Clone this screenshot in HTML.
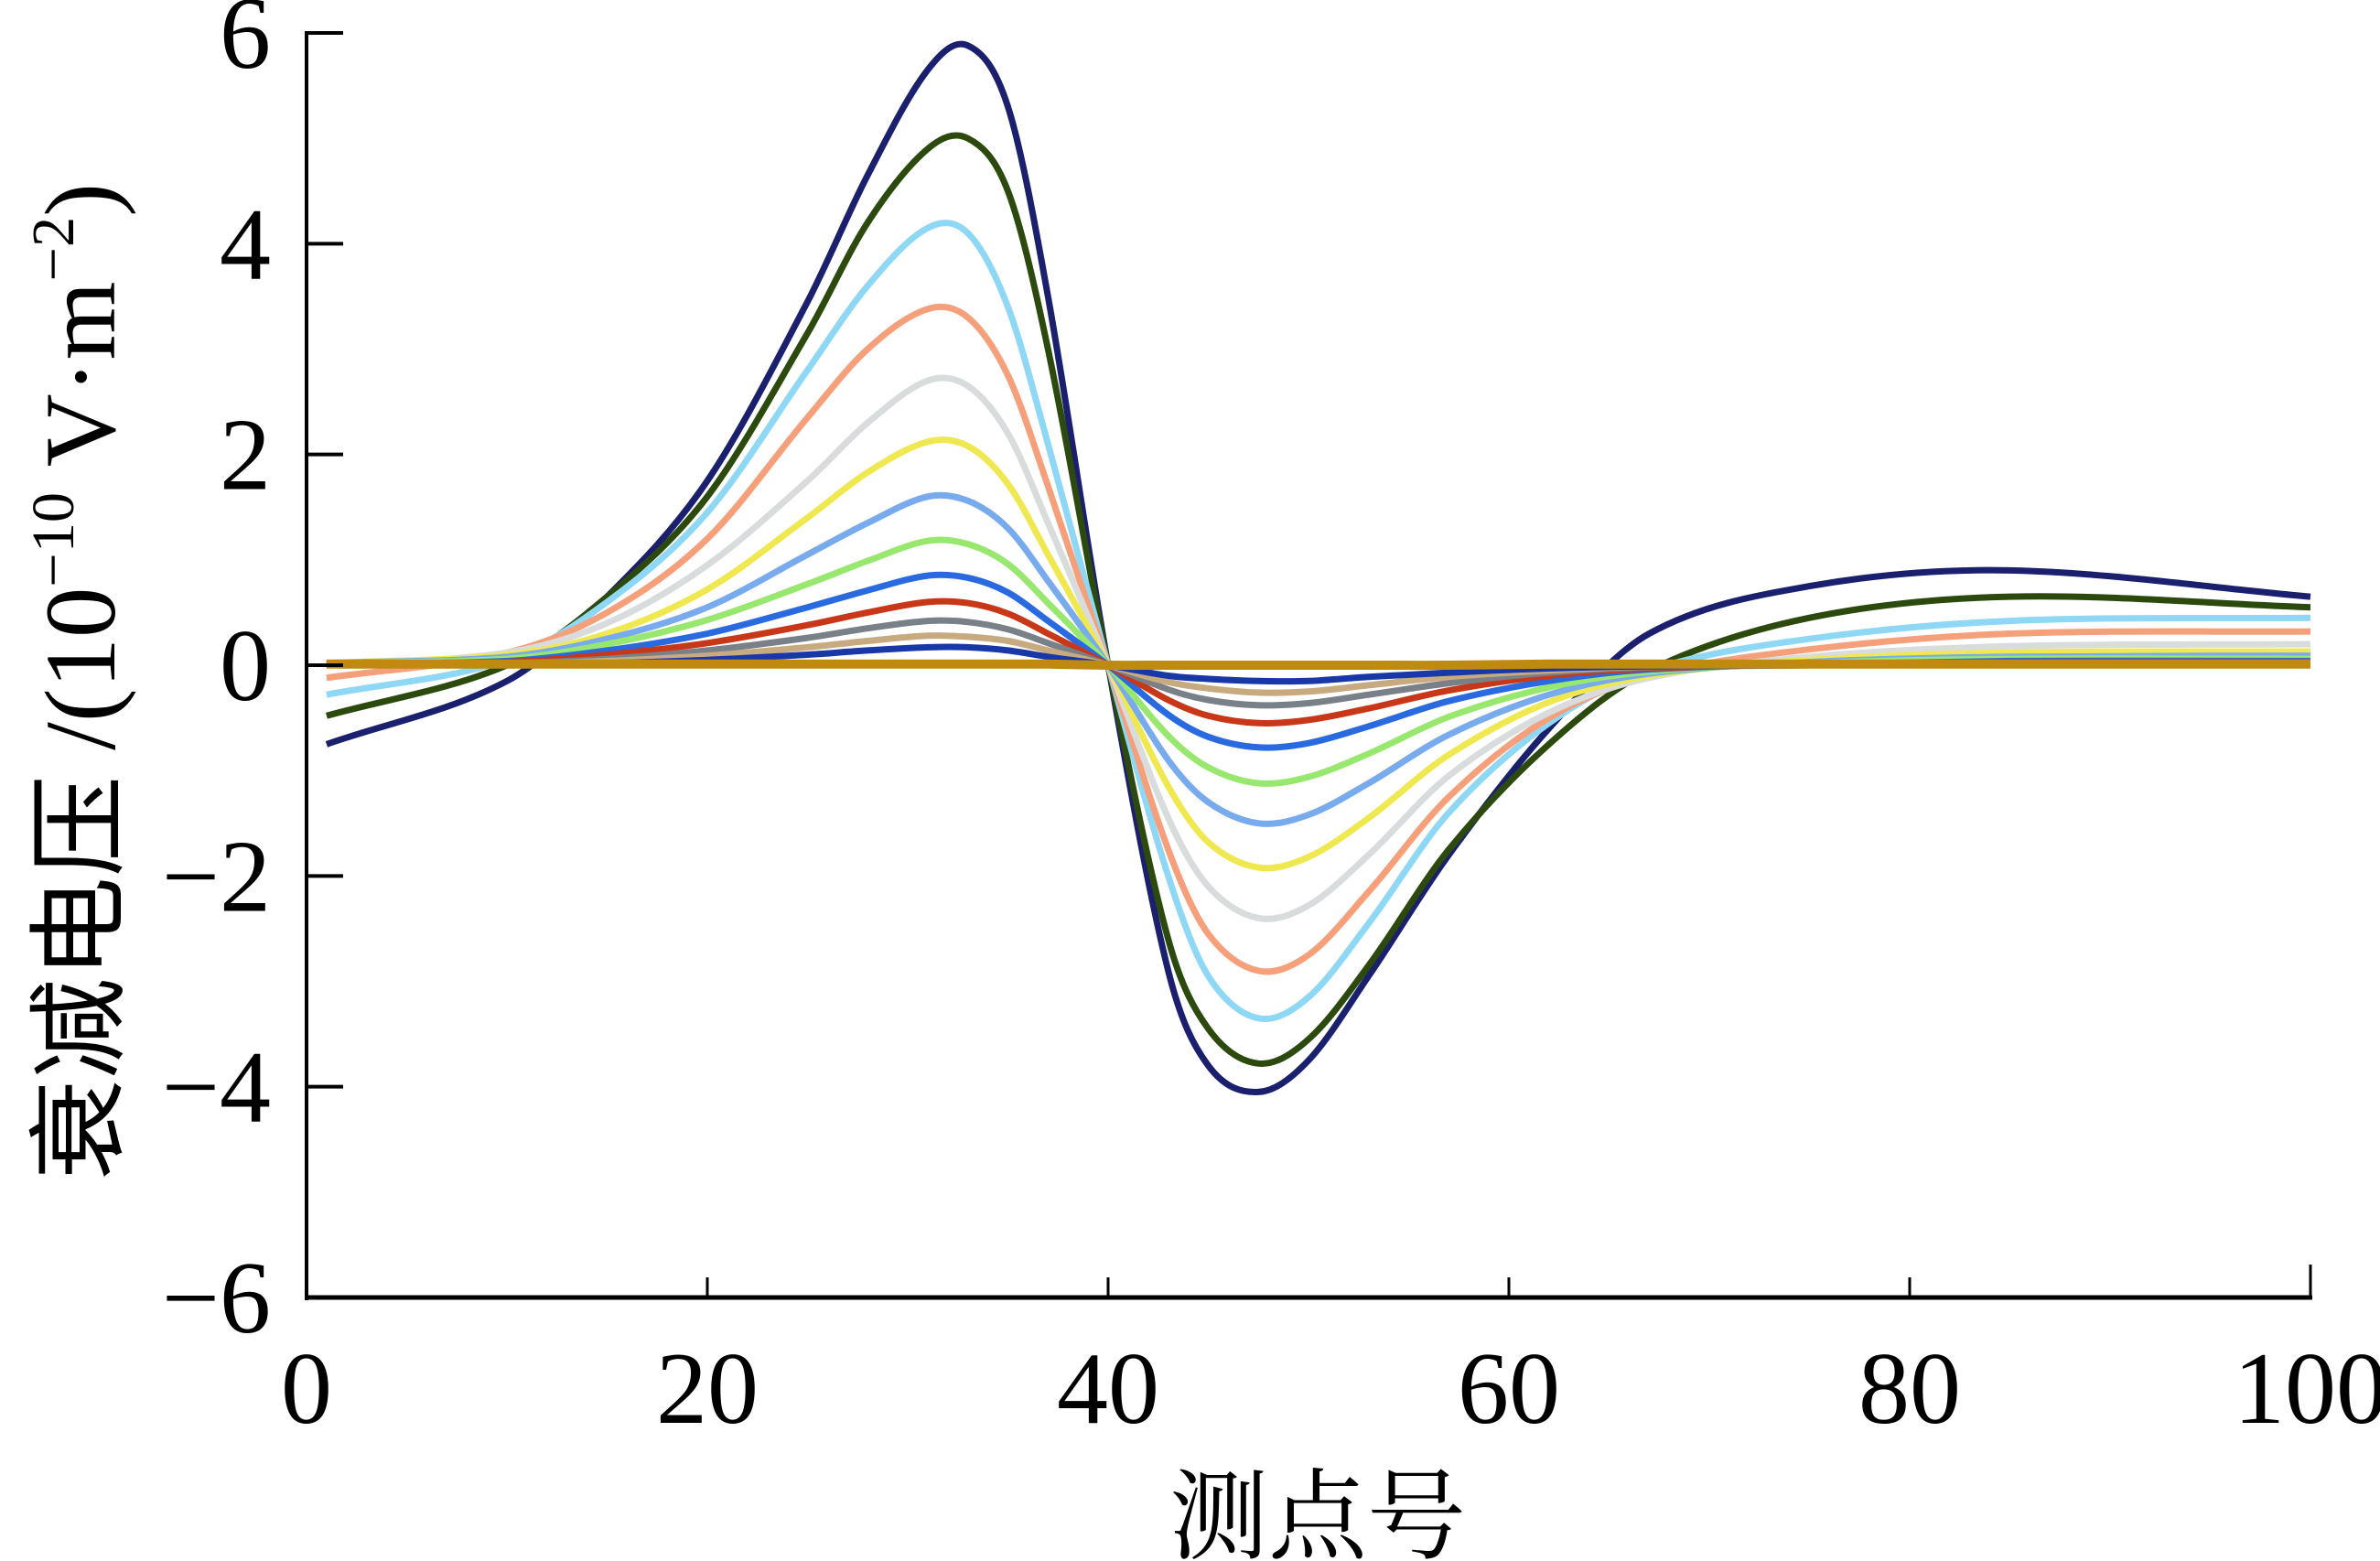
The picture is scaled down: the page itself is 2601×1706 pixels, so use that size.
<!DOCTYPE html>
<html><head><meta charset="utf-8"><style>
html,body{margin:0;padding:0;background:#fff;}
svg{display:block;}
text{font-family:"Liberation Serif","Noto Serif CJK SC",serif;fill:#000;}
</style></head><body>
<svg id="chart" width="2601" height="1706" viewBox="0 0 2601 1706" xmlns="http://www.w3.org/2000/svg">
<g id="series"></g>
<g id="axes"></g>
<text transform="translate(125,745) rotate(-90)" text-anchor="middle" font-size="110" textLength="1090" lengthAdjust="spacingAndGlyphs" style="font-family:'Liberation Serif','Noto Sans CJK SC',serif">衰减电压 /(10<tspan font-size="66" dy="-45">−10</tspan><tspan dy="45"> V·m</tspan><tspan font-size="66" dy="-45">−2</tspan><tspan dy="45">)</tspan></text>
<text x="1440" y="1695" text-anchor="middle" font-size="108" style="font-family:'Noto Serif CJK SC','Noto Sans CJK SC',serif">测点号</text>
</svg>
<script>
const xs = [1,10,15,20,25,28,31,33,35,37,40,43,45,47.5,50,53,57,62,67,75,85,100];
const sNavy = [-0.75,-0.15,0.65,1.75,3.45,4.65,5.65,5.88,5.3,3.5,0,-2.9,-3.8,-4.05,-3.75,-2.95,-1.8,-0.6,0.3,0.75,0.9,0.65];
const sDarkGreen = [-0.48,0.0,0.65,1.6,3.15,4.2,4.9,5.0,4.5,3.0,0,-2.6,-3.45,-3.78,-3.55,-2.85,-1.75,-0.75,-0.05,0.45,0.65,0.55];
const sLightBlue = [-0.28,0.05,0.6,1.45,2.8,3.6,4.15,4.1,3.4,2.1,0,-2.0,-2.95,-3.35,-3.15,-2.45,-1.4,-0.55,-0.05,0.25,0.42,0.45];
const sOrange = [-0.12,0.12,0.5,1.2,2.35,3.0,3.38,3.3,2.75,1.7,0,-1.75,-2.55,-2.9,-2.75,-2.15,-1.25,-0.5,-0.1,0.15,0.3,0.32];
const sLightGray = [0,0.12,0.4,0.95,1.75,2.3,2.7,2.65,2.2,1.35,0,-1.45,-2.1,-2.4,-2.28,-1.8,-1.05,-0.45,-0.12,0.08,0.18,0.2];
const sYellow = [0.02,0.1,0.3,0.72,1.4,1.83,2.12,2.08,1.72,1.05,0,-1.15,-1.68,-1.92,-1.82,-1.45,-0.85,-0.35,-0.1,0.05,0.12,0.13];
const sMidBlue = [0.02,0.08,0.25,0.55,1.05,1.35,1.6,1.56,1.3,0.8,0,-0.9,-1.3,-1.5,-1.42,-1.12,-0.66,-0.28,-0.08,0.03,0.08,0.09];
const sLightGreen = [0.02,0.06,0.2,0.43,0.77,0.99,1.18,1.15,0.96,0.59,0,-0.67,-0.97,-1.12,-1.06,-0.84,-0.49,-0.21,-0.06,0.02,0.06,0.06];
const sBlue = [0.01,0.04,0.14,0.3,0.55,0.71,0.85,0.83,0.69,0.42,0,-0.47,-0.68,-0.78,-0.74,-0.58,-0.34,-0.15,-0.04,0.01,0.04,0.04];
const sRed = [0.01,0.03,0.1,0.21,0.38,0.5,0.6,0.59,0.49,0.3,0,-0.33,-0.48,-0.55,-0.52,-0.41,-0.24,-0.1,-0.03,0.01,0.03,0.03];
const sGray = [0.01,0.02,0.06,0.14,0.26,0.35,0.42,0.41,0.34,0.21,0,-0.23,-0.33,-0.38,-0.36,-0.28,-0.17,-0.07,-0.02,0,0.02,0.02];
const sTan = [0,0.01,0.04,0.09,0.17,0.23,0.28,0.27,0.23,0.14,0,-0.16,-0.22,-0.26,-0.25,-0.19,-0.11,-0.05,-0.01,0,0.01,0.01];
const sSmallNavy = [0,0.01,0.02,0.05,0.1,0.14,0.17,0.17,0.14,0.08,0,-0.1,-0.13,-0.15,-0.15,-0.11,-0.07,-0.03,-0.01,0,0.01,0.01];
const sGold = [0.01,0.01,0.01,0.01,0.01,0.01,0.01,0.01,0.01,0.01,0,0,0,0,0,0,0,0.01,0.01,0.01,0.01,0.01];
const seriesList = [sNavy,sDarkGreen,sLightBlue,sOrange,sLightGray,sYellow,sMidBlue,sLightGreen,sBlue,sRed,sGray,sTan,sSmallNavy,sGold];
const seriesNames = ['navy','dark-green','light-blue','orange','light-gray','yellow','mid-blue','light-green','blue','red','gray','tan','small-navy','gold'];
const seriesColors = ['#1a1f6e','#2d4a0e','#8fd8f5','#f5a07a','#d8dcdc','#f0e850','#78aaee','#98e870','#2a6ae0','#c83818','#7a8088','#c8aa80','#1838a8','#c08a10'];
const xTicks = [0,20,40,60,80,100];
const yTicks = [6,4,2,0,-2,-4,-6];

const X0=335, X1=2525, Y6=36, Ym6=1418;
const sx = v => X0 + (v-0)/(100-0)*(X1-X0);
const sy = v => Y6 + (6-v)/12*(Ym6-Y6);
const NS='http://www.w3.org/2000/svg';
const sg=document.getElementById('series');
const ag=document.getElementById('axes');

function pathFor(arr){
  const n=xs.length;
  const m=[];
  for(let i=0;i<n;i++){
    const a=Math.max(0,i-1), b=Math.min(n-1,i+1);
    m.push((arr[b]-arr[a])/(xs[b]-xs[a]));
  }
  let d='M'+sx(xs[0]).toFixed(1)+','+sy(arr[0]).toFixed(1);
  for(let i=0;i<n-1;i++){
    const h=xs[i+1]-xs[i];
    const c1x=xs[i]+h/3, c1y=arr[i]+m[i]*h/3;
    const c2x=xs[i+1]-h/3, c2y=arr[i+1]-m[i+1]*h/3;
    d+=' C'+sx(c1x).toFixed(1)+','+sy(c1y).toFixed(1)+' '+sx(c2x).toFixed(1)+','+sy(c2y).toFixed(1)+' '+sx(xs[i+1]).toFixed(1)+','+sy(arr[i+1]).toFixed(1);
  }
  return d;
}
seriesList.forEach((arr,k)=>{
  const el=document.createElementNS(NS,'path');
  el.setAttribute('d',pathFor(arr));
  el.setAttribute('fill','none');
  el.setAttribute('stroke',seriesColors[k]);
  el.setAttribute('stroke-width', k===13?10:7);
  
  
  sg.appendChild(el);
});

function line(x1,y1,x2,y2,w,name){
  const l=document.createElementNS(NS,'line');
  l.setAttribute('x1',x1);l.setAttribute('y1',y1);l.setAttribute('x2',x2);l.setAttribute('y2',y2);
  l.setAttribute('stroke','#000');l.setAttribute('stroke-width',w);
  
  
  ag.appendChild(l);
}
line(X0,Y6-2,X0,Ym6+3,4,'y-axis-line');
line(X0-2,Ym6,X1+2,Ym6,5,'x-axis-line');
line(X1,Ym6,X1,Ym6-36,3,'right-edge-tick');
yTicks.forEach(v=>{
  line(X0,sy(v),X0+40,sy(v),4,'y-tick');
  const t=document.createElementNS(NS,'text');
  t.setAttribute('x',296);t.setAttribute('y',sy(v)+38);
  t.setAttribute('text-anchor','end');t.setAttribute('font-size','112');
  t.textContent = v<0 ? '−'+Math.abs(v) : String(v);
  
  
  ag.appendChild(t);
});
xTicks.forEach(v=>{
  if(v>0 && v<100) line(sx(v),Ym6,sx(v),Ym6-22,3,'x-tick');
  const t=document.createElementNS(NS,'text');
  t.setAttribute('x',sx(v));t.setAttribute('y',1555);
  t.setAttribute('text-anchor','middle');t.setAttribute('font-size','112');
  t.textContent=String(v);
  
  
  ag.appendChild(t);
});
</script>
</body></html>
